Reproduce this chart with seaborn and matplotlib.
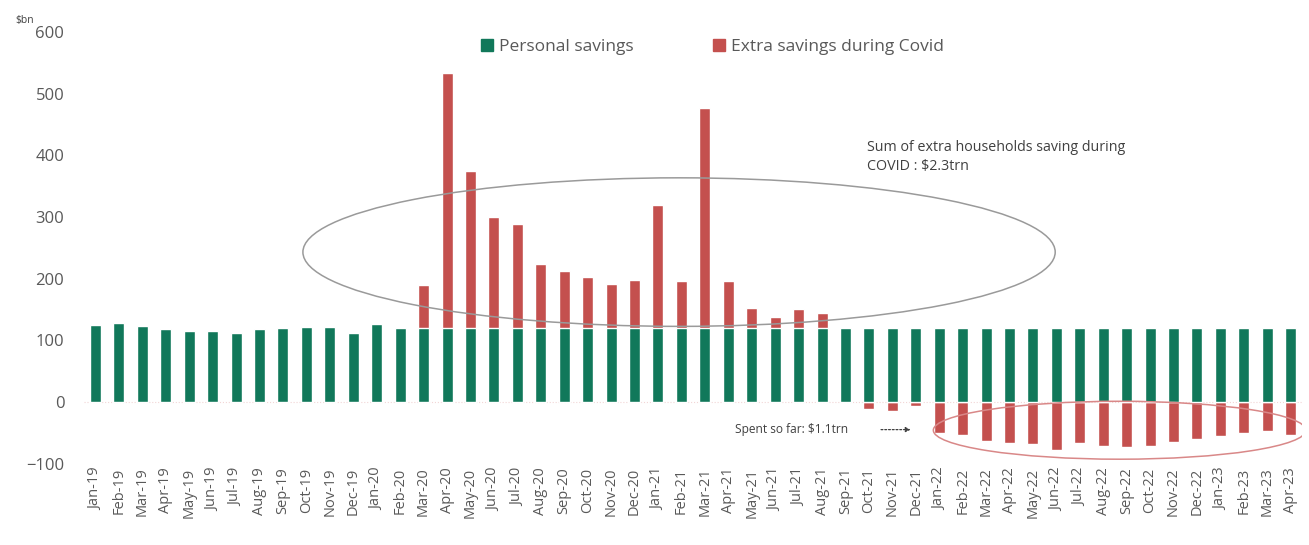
import matplotlib
matplotlib.use("Agg")
import matplotlib.pyplot as plt
import seaborn as sns
import pandas as pd
import numpy as np
from matplotlib.patches import Ellipse
from matplotlib.lines import Line2D

months = ["Jan-19", "Feb-19", "Mar-19", "Apr-19", "May-19", "Jun-19", "Jul-19", "Aug-19",
          "Sep-19", "Oct-19", "Nov-19", "Dec-19", "Jan-20", "Feb-20", "Mar-20", "Apr-20",
          "May-20", "Jun-20", "Jul-20", "Aug-20", "Sep-20", "Oct-20", "Nov-20", "Dec-20",
          "Jan-21", "Feb-21", "Mar-21", "Apr-21", "May-21", "Jun-21", "Jul-21", "Aug-21",
          "Sep-21", "Oct-21", "Nov-21", "Dec-21", "Jan-22", "Feb-22", "Mar-22", "Apr-22",
          "May-22", "Jun-22", "Jul-22", "Aug-22", "Sep-22", "Oct-22", "Nov-22", "Dec-22",
          "Jan-23", "Feb-23", "Mar-23", "Apr-23"]

personal_savings = [125, 128, 123, 119, 115, 115, 112, 118, 120, 122, 122, 112, 126, 120,
                    120, 120, 120, 120, 120, 120, 120, 120, 120, 120, 120, 120, 120, 120,
                    120, 120, 120, 120, 120, 120, 120, 120, 120, 120, 120, 120, 120, 120,
                    120, 120, 120, 120, 120, 120, 120, 120, 120, 120]

extra_savings = [0, 0, 0, 0, 0, 0, 0, 0, 0, 0, 0, 0, 0, 0,
                 70, 414, 254, 180, 169, 104, 92, 82, 71, 78, 199, 76, 357, 76,
                 33, 17, 30, 25, 0, -11, -14, -6,
                 -51, -53, -64, -67, -69, -78, -67, -71, -74, -72, -65, -61, -56, -51, -47, -53]

GREEN = "#11785a"
RED = "#c4504e"
GREY = "#595959"

sns.set_theme(style="white")
plt.rcParams["font.family"] = ["Open Sans", "DejaVu Sans"]

df = pd.DataFrame({"month": months, "personal": personal_savings, "extra": extra_savings})
# stacked: positive extras sit on top of personal savings, negatives hang below zero
df["red_top"] = np.where(df["extra"] > 0, df["personal"] + df["extra"], df["extra"])

fig = plt.figure(figsize=(13.09, 5.45), dpi=100)
ax = fig.add_axes([0.064, 0.1495, 0.931, 0.7917])

sns.barplot(data=df, x="month", y="red_top", color=RED, saturation=1, width=0.47, ax=ax)
sns.barplot(data=df, x="month", y="personal", color=GREEN, saturation=1, width=0.47, ax=ax)

ax.set_xlim(-0.5, len(months) - 0.5)
ax.set_ylim(-100, 600)
ax.set_yticks(range(-100, 601, 100))
ax.set_xlabel("")
ax.set_ylabel("")
for s in ax.spines.values():
    s.set_visible(False)
ax.tick_params(axis="y", labelsize=12, labelcolor=GREY, length=0, pad=14)
ax.tick_params(axis="x", labelsize=10.5, labelcolor=GREY, length=0, pad=3, rotation=90)
ax.axhline(0, color="#f2d6d6", lw=0.8, ls=":", zorder=0)

# ellipses
ax.add_patch(Ellipse((24.9, 243), 32.1, 241, fill=False, edgecolor="#9a9a9a", lw=1.1, zorder=5))
ax.add_patch(Ellipse((43.7, -46), 15.9, 94, fill=False, edgecolor="#d98888", lw=1.1, zorder=5))

# annotations
ax.text(32.9, 425, "Sum of extra households saving during\nCOVID : $2.3trn", fontsize=10.3,
        color="#404040", va="top", ha="left", linespacing=1.4)
ax.text(27.3, -45, "Spent so far: $1.1trn", fontsize=8.6, color="#404040", va="center", ha="left")
ax.annotate("", xy=(34.9, -45), xytext=(33.4, -45),
            arrowprops=dict(arrowstyle="-|>", linestyle=(0, (1.5, 1.5)), color="#404040",
                            lw=0.9, mutation_scale=7))

# legend
handles = [Line2D([], [], marker="s", ls="", color=GREEN, markersize=8),
           Line2D([], [], marker="s", ls="", color=RED, markersize=8)]
ax.legend(handles, ["Personal savings", "Extra savings during Covid"], ncol=2, frameon=False,
          loc="center", bbox_to_anchor=(0.515, 0.965), fontsize=12.5, labelcolor=GREY,
          columnspacing=4.4, handletextpad=0.2, handlelength=1.0)

fig.text(0.012, 0.957, "$bn", fontsize=7.5, color="#404040")

fig.savefig("out.png", dpi=100)
